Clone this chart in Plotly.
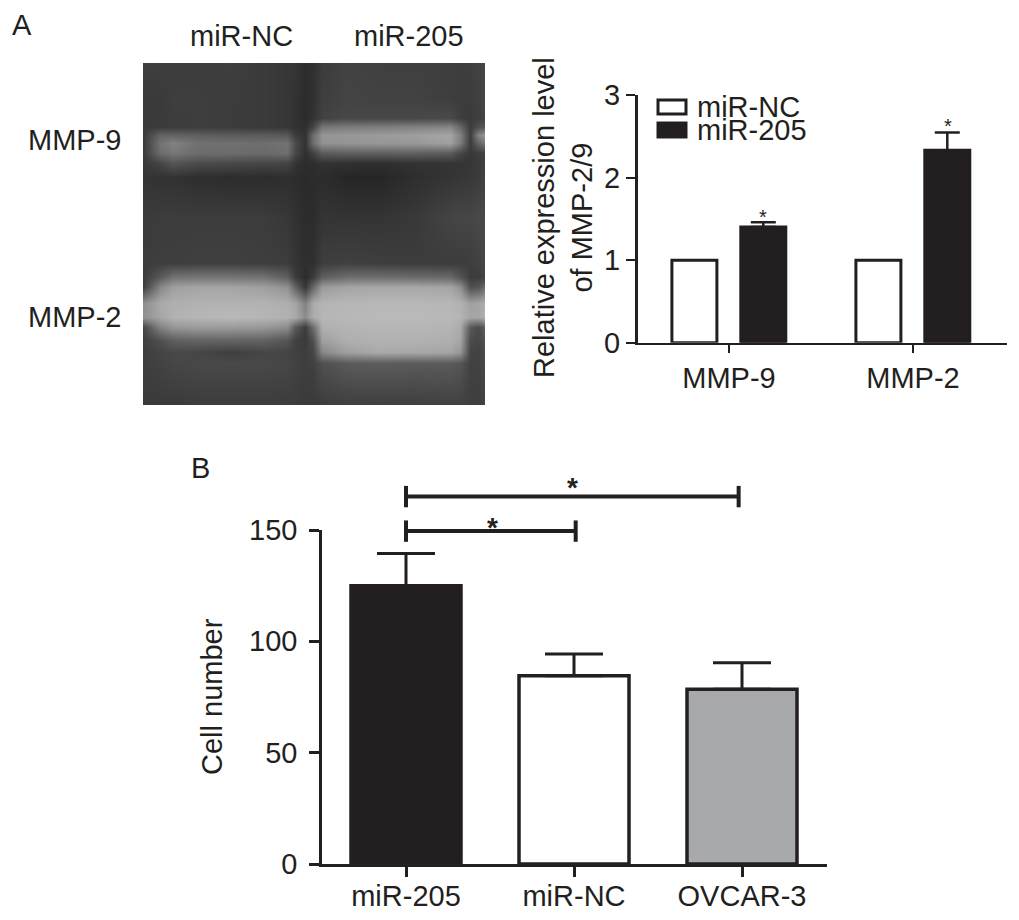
import plotly.graph_objects as go

W, H = 1019, 920
BODY = 8  # default page margin of the written html
INK = "#231f20"
FONT = "Liberation Sans, Arial, sans-serif"
TXT = 29

# ---- Gel image (grey levels)
gel_x = [143, 160, 173, 197, 230, 263, 287, 295, 305, 313, 322, 347, 380, 413, 450, 460, 470, 478, 485]
gel_y = [63, 100, 118, 127, 135, 143, 153, 163, 177, 217, 263, 277, 287, 303, 317, 327, 340, 352, 363, 405]
gel_gray = [
    [62, 62, 60, 60, 62, 58, 55, 52, 45, 48, 60, 66, 64, 64, 62, 60, 62, 66, 70],
    [58, 58, 62, 62, 60, 58, 55, 50, 44, 48, 62, 68, 66, 66, 62, 60, 60, 64, 70],
    [58, 58, 60, 62, 60, 58, 55, 50, 44, 50, 66, 72, 72, 72, 74, 62, 58, 62, 68],
    [58, 60, 60, 62, 60, 58, 55, 50, 46, 70, 120, 125, 128, 130, 135, 105, 60, 80, 90],
    [58, 100, 100, 95, 92, 92, 88, 60, 50, 110, 150, 152, 155, 158, 165, 130, 62, 130, 150],
    [58, 115, 130, 112, 112, 110, 115, 75, 50, 110, 145, 148, 150, 152, 160, 125, 60, 100, 120],
    [58, 108, 118, 108, 108, 105, 110, 72, 48, 65, 90, 95, 95, 95, 90, 70, 56, 60, 66],
    [55, 70, 85, 75, 72, 70, 68, 52, 44, 45, 50, 48, 46, 50, 52, 52, 54, 58, 66],
    [52, 50, 50, 46, 44, 44, 46, 44, 42, 44, 44, 38, 38, 46, 52, 54, 56, 60, 66],
    [58, 60, 60, 60, 60, 60, 55, 50, 44, 44, 52, 52, 52, 56, 68, 70, 70, 72, 72],
    [60, 62, 62, 64, 64, 62, 60, 52, 46, 48, 62, 64, 62, 60, 60, 60, 62, 66, 70],
    [58, 90, 115, 118, 118, 115, 95, 60, 44, 60, 95, 110, 110, 108, 105, 85, 60, 60, 68],
    [62, 135, 160, 165, 165, 160, 145, 100, 55, 105, 155, 165, 168, 168, 165, 145, 80, 85, 110],
    [140, 170, 175, 178, 178, 178, 175, 165, 130, 170, 180, 182, 184, 184, 182, 178, 160, 165, 175],
    [145, 165, 178, 182, 185, 182, 178, 170, 140, 172, 182, 184, 186, 186, 184, 180, 165, 165, 178],
    [70, 130, 150, 155, 155, 152, 140, 90, 60, 110, 175, 180, 182, 182, 180, 170, 90, 75, 95],
    [62, 80, 95, 100, 100, 98, 85, 65, 58, 80, 160, 175, 178, 178, 175, 165, 75, 70, 85],
    [62, 68, 72, 70, 62, 70, 68, 64, 60, 70, 135, 160, 170, 168, 165, 150, 68, 66, 75],
    [62, 66, 70, 72, 72, 72, 70, 66, 62, 64, 80, 90, 92, 90, 90, 85, 66, 66, 72],
    [58, 58, 58, 60, 60, 60, 60, 60, 58, 58, 60, 62, 62, 62, 64, 64, 62, 62, 66],
]

# ---- Panel A bars
a_categories = ["MMP-9", "MMP-2"]
a_positions = [0, 1]
a_nc = [1.0, 1.0]
a_205 = [1.4, 2.33]
a_205_err = [0.06, 0.215]
a_yticks = [0, 1, 2, 3]

# ---- Panel B bars
b_categories = ["miR-205", "miR-NC", "OVCAR-3"]
b_positions = [0, 1, 2]
b_values = [125, 84.5, 78.5]
b_errors = [14.5, 9.8, 11.9]
b_colors = [INK, "#ffffff", "#a7a9ac"]
b_yticks = [0, 50, 100, 150]

# ---- Significance brackets of panel B (x = bar positions, y = cell number)
bracket_long_x = [0, 1.98]
bracket_long_y = [165, 165]
bracket_short_x = [0, 1.01]
bracket_short_y = [149.5, 149.5]
bracket_cap = 4.8

PW, PH = W - 2 * BODY, H - 2 * BODY


def fx(p):
    return (p - BODY) / PW


def fy(p):
    return 1 - (p - BODY) / PH


fig = go.Figure()

# gel
fig.add_trace(go.Heatmap(
    x=gel_x, y=gel_y, z=gel_gray, zmin=0, zmax=255, zsmooth="best",
    colorscale=[[0, "#000000"], [1, "#ffffff"]], showscale=False,
    hoverinfo="skip", xaxis="x3", yaxis="y3"))

# panel A
A_TICK = 184.0
bar_w = 45 / A_TICK
fig.add_trace(go.Bar(
    x=a_positions, y=a_nc, name="miR-NC", width=bar_w, offset=-34.6 / A_TICK - bar_w / 2,
    marker=dict(color="#ffffff", line=dict(color=INK, width=3)), xaxis="x", yaxis="y"))
fig.add_trace(go.Bar(
    x=a_positions, y=a_205, name="miR-205", width=bar_w, offset=34.3 / A_TICK - bar_w / 2,
    marker=dict(color=INK, line=dict(color=INK, width=3)),
    xaxis="x", yaxis="y"))
# error bars of the dark bars, centred on them
fig.add_trace(go.Scatter(
    x=[p + 34.3 / A_TICK for p in a_positions], y=a_205, mode="markers",
    marker=dict(size=1, opacity=0), showlegend=False, hoverinfo="skip",
    error_y=dict(type="data", symmetric=False, array=a_205_err, arrayminus=[0, 0],
                 color=INK, thickness=2.5, width=12.5),
    cliponaxis=False, xaxis="x", yaxis="y"))

# panel B
fig.add_trace(go.Bar(
    x=b_positions, y=b_values, width=110 / 168, offset=-55 / 168,
    marker=dict(color=b_colors, line=dict(color=INK, width=3.5)),
    error_y=dict(type="data", symmetric=False, array=b_errors, arrayminus=[0, 0, 0],
                 color=INK, thickness=3, width=29),
    xaxis="x2", yaxis="y2"))
for bx, by in ((bracket_long_x, bracket_long_y), (bracket_short_x, bracket_short_y)):
    fig.add_trace(go.Scatter(
        x=bx, y=by, mode="lines", line=dict(color=INK, width=4), cliponaxis=False,
        hoverinfo="skip", showlegend=False,
        error_y=dict(type="constant", value=bracket_cap, color=INK, thickness=4, width=0),
        xaxis="x2", yaxis="y4"))

axis_common = dict(showgrid=False, zeroline=False, showline=True, linecolor=INK,
                   ticks="outside", tickcolor=INK, automargin=False,
                   tickfont=dict(family=FONT, size=TXT, color=INK))

# the bracket axis keeps the scale of the cell-number axis, with room above 150
B_Y0, B_Y150, B_TOP = 864, 530, 478
fig.update_layout(
    width=PW, height=PH, margin=dict(l=0, r=0, t=0, b=0), autosize=False,
    paper_bgcolor="#ffffff", plot_bgcolor="rgba(0,0,0,0)",
    barmode="overlay", showlegend=False, font=dict(family=FONT, color=INK),
    xaxis=dict(axis_common, domain=[fx(637.7), fx(1006.7)], range=[(637.7 - 729) / A_TICK, (1006.7 - 729) / A_TICK],
               tickmode="array", tickvals=a_positions, ticktext=a_categories,
               linewidth=2, tickwidth=2, ticklen=8, anchor="y"),
    yaxis=dict(axis_common, domain=[fy(342.7), fy(95)], range=[0, 3],
               tickmode="array", tickvals=a_yticks, linewidth=2.5, tickwidth=2, ticklen=9, anchor="x"),
    xaxis2=dict(axis_common, domain=[fx(322), fx(827)], range=[(322 - 406) / 168, (827 - 406) / 168],
                tickmode="array", tickvals=b_positions, ticktext=b_categories,
                linewidth=2.5, tickwidth=2.5, ticklen=10, ticklabelstandoff=-6, anchor="y2"),
    yaxis2=dict(axis_common, domain=[fy(B_Y0), fy(B_Y150)], range=[0, 150],
                tickmode="array", tickvals=b_yticks, linewidth=2.5, tickwidth=2.5, ticklen=10,
                ticklabelstandoff=6, anchor="x2"),
    yaxis4=dict(domain=[fy(B_Y0), fy(B_TOP)], range=[0, 150 * (B_Y0 - B_TOP) / (B_Y0 - B_Y150)],
                visible=False, anchor="x2", automargin=False),
    xaxis3=dict(domain=[fx(143), fx(485)], range=[143, 485], visible=False, anchor="y3", automargin=False),
    yaxis3=dict(domain=[fy(405), fy(63)], range=[405, 63], visible=False, anchor="x3", automargin=False),
)

# legend of panel A
for top, color in ((100, "#ffffff"), (123, INK)):
    fig.add_shape(type="rect", xref="paper", yref="paper",
                  x0=fx(658), x1=fx(686), y0=fy(top + 14), y1=fy(top),
                  fillcolor=color, line=dict(color=INK, width=3))


def label(text, x, y, size=TXT, anchor="center", bold=False, angle=0):
    fig.add_annotation(text=f"<b>{text}</b>" if bold else text, xref="paper", yref="paper",
                       x=fx(x), y=fy(y), xanchor=anchor, yanchor="middle", showarrow=False,
                       textangle=angle, font=dict(family=FONT, size=size, color=INK))


label("Relative expression level<br>of MMP-2/9", 563, 218, angle=-90)
label("Cell number", 212, 697, angle=-90)
label("miR-NC", 695, 107, anchor="left")
label("miR-205", 695, 130, anchor="left")
label("A", 22, 25)
label("B", 200, 468)
label("miR-NC", 241, 36)
label("miR-205", 409, 36)
label("MMP-9", 74, 140)
label("MMP-2", 74, 317)
label("*", 763, 217, size=20)
label("*", 948, 126, size=20)
label("*", 572, 487, size=28, bold=True)
label("*", 492, 527, size=28, bold=True)

fig.write_html("out.html")
